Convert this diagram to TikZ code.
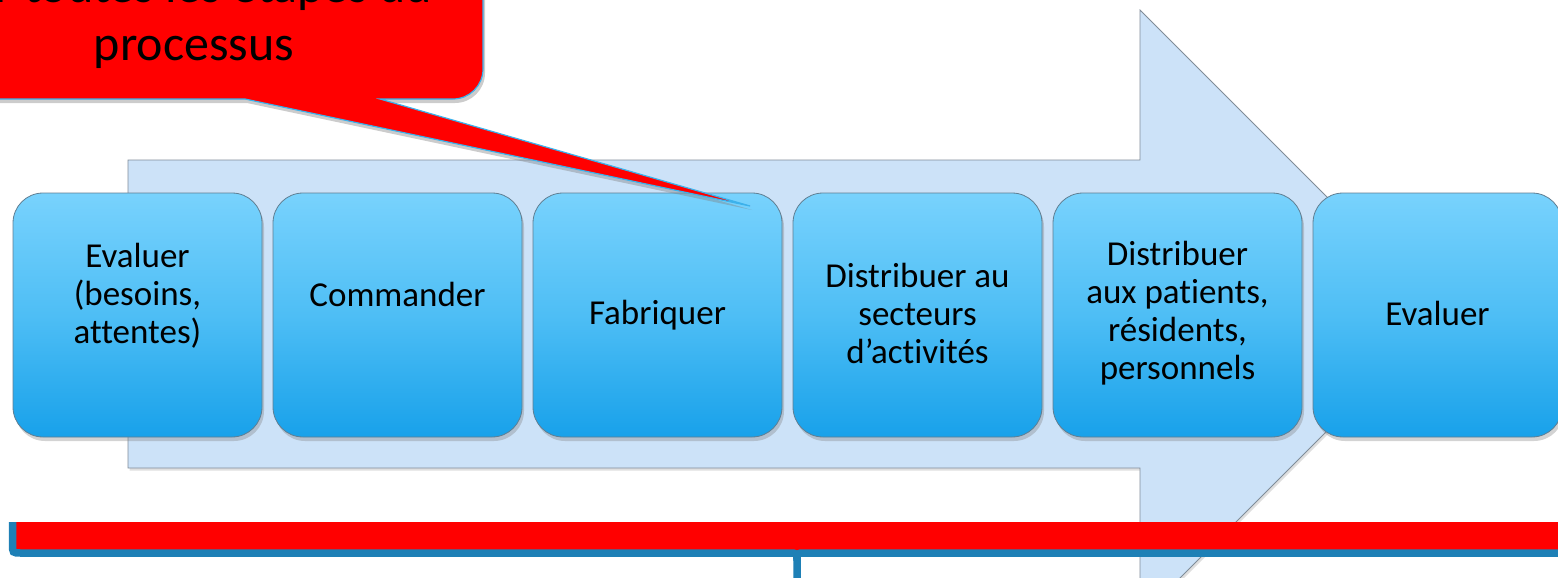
\documentclass[tikz,border=0pt]{standalone}
\usepackage{fontspec}
\setmainfont[Ligatures={NoCommon}]{Carlito}
\usetikzlibrary{shadows,calc}

\definecolor{arrowfill}{RGB}{204,226,248}
\definecolor{arrowline}{RGB}{128,140,152}
\definecolor{steptop}{RGB}{120,210,253}
\definecolor{stepmid}{RGB}{78,190,245}
\definecolor{stepbot}{RGB}{24,161,234}
\definecolor{stepline}{RGB}{96,126,146}
\definecolor{calloutline}{RGB}{59,178,236}
\definecolor{bracecol}{RGB}{30,128,182}

\begin{document}
\begin{tikzpicture}[x=1pt,y=-1pt,
  arrowbody/.style={fill=arrowfill, draw=arrowline, line width=0.8pt,
    drop shadow={shadow xshift=1.5pt, shadow yshift=-2.5pt, opacity=0.25}},
  stepbox/.style={rounded corners=30pt, minimum width=249pt, minimum height=244pt,
    inner sep=0pt, top color=steptop, bottom color=stepbot, middle color=stepmid,
    draw=stepline, line width=0.8pt,
    drop shadow={shadow xshift=2pt, shadow yshift=-4pt, opacity=0.35}},
  steptext/.style={align=center, text=black, inner sep=0pt,
    font=\fontsize{35}{38}\selectfont},
  callout/.style={fill=red, draw=calloutline, line width=1.2pt,
    drop shadow={shadow xshift=2pt, shadow yshift=-4pt, opacity=0.4}},
  callouttext/.style={text=black, inner sep=0pt, font=\fontsize{50}{57}\selectfont},
  bracestroke/.style={draw=bracecol, line width=7.5pt},
]
\useasboundingbox (0,0) rectangle (1558,578);

% large process arrow in the background
\path[arrowbody] (128,160) -- (1140,160) -- (1140,10) -- (1444,314)
  -- (1140,618) -- (1140,468) -- (128,468) -- cycle;

% process steps
\node[stepbox] (s1) at (137.5,315) {};
\node[stepbox] (s2) at (397.5,315) {};
\node[stepbox] (s3) at (657.5,315) {};
\node[stepbox] (s4) at (917.5,315) {};
\node[stepbox] (s5) at (1177.5,315) {};
\node[stepbox] (s6) at (1437.5,315) {};

\node[steptext] (t1) at ($(s1.center)+(0,-19)$) {Evaluer\\(besoins,\\attentes)};
\node[steptext] (t2) at ($(s2.center)+(0,-21)$) {Commander};
\node[steptext] (t3) at ($(s3.center)+(0,0)$) {Fabriquer};
\node[steptext] (t4) at ($(s4.center)+(0,-2)$) {Distribuer au\\secteurs\\d’activités};
\node[steptext] (t5) at ($(s5.center)+(0,-2)$) {Distribuer\\aux patients,\\résidents,\\personnels};
\node[steptext] (t6) at ($(s6.center)+(0,-2)$) {Evaluer};

% speech bubble with its pointer
\path[callout] (-140,-100) -- (483,-100) -- (483,69)
  arc[start angle=0, end angle=90, radius=30] -- (380,99) -- (750,206)
  -- (245,99) -- (-140,99) -- cycle;
\node[callouttext, anchor=base east] (c1) at (432,3) {Sur toutes les étapes du};
\node[callouttext, anchor=base] (c2) at (194,60) {processus};

% red band held by the brace
\fill[red] (17,522) -- (1570,522) -- (1570,553) -- (805,553)
  .. controls (797,553) .. (797,561) .. controls (797,553) .. (789,553)
  -- (21,553) .. controls (12.5,553) .. (12.5,544) -- (12.5,522) -- cycle;
\draw[bracestroke] (12.5,522) -- (12.5,544) .. controls (12.5,553) .. (21,553)
  -- (789,553) .. controls (797,553) .. (797,561) -- (797,590);
\draw[bracestroke] (797,561) .. controls (797,553) .. (805,553) -- (1570,553);
\end{tikzpicture}
\end{document}
